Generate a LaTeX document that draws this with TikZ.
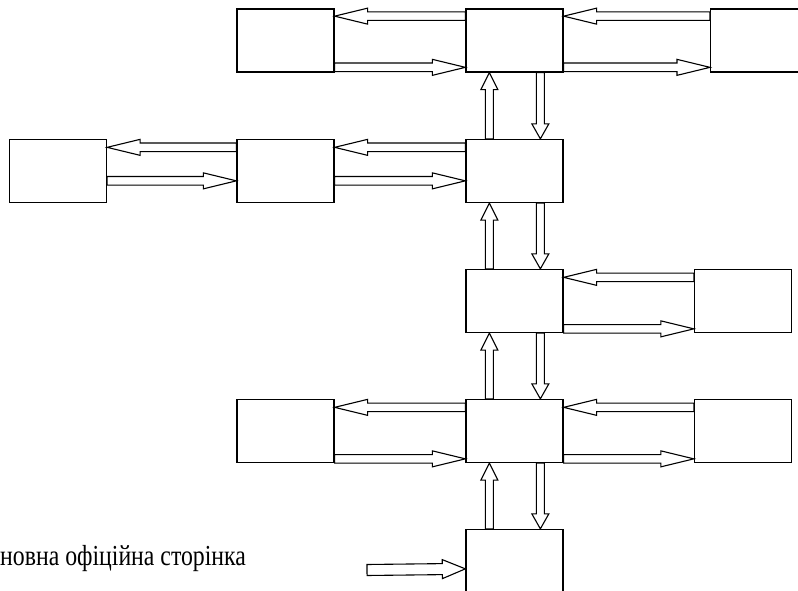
\documentclass[tikz,border=0pt]{standalone}
\usepackage{fontspec}
\setmainfont{Liberation Serif}
\usetikzlibrary{calc}
\usetikzlibrary{positioning}

\tikzset{page/.style={draw,rectangle,line width=1.3pt,minimum width=97pt,
    minimum height=63pt,inner sep=0pt},
  hollow/.style={draw,line width=1.1pt,line join=miter,fill=white}}

% hollow block arrow: from, to, half shaft, half head, head length
\newcommand{\blockarrow}[5]{%
  \coordinate (ArrFrom) at #1;
  \coordinate (ArrTo) at #2;
  \coordinate (HeadBase) at ($(ArrTo)!#5!(ArrFrom)$);
  \draw[hollow] ($(ArrFrom)!#3!90:(ArrTo)$) -- ($(HeadBase)!#3!90:(ArrTo)$)
    -- ($(HeadBase)!#4!90:(ArrTo)$) -- (ArrTo)
    -- ($(HeadBase)!#4!-90:(ArrTo)$) -- ($(HeadBase)!#3!-90:(ArrTo)$)
    -- ($(ArrFrom)!#3!-90:(ArrTo)$) -- cycle;
}

\begin{document}
\begin{tikzpicture}[x=1pt,y=-1pt]
  \useasboundingbox (0,0) rectangle (798,591);
  \clip (0,0) rectangle (798,591);

  \foreach \name/\x/\y in {Aone/285.5/40.5,Atwo/514.5/40.5,
    Bone/58/171,Btwo/285.5/171,Bthree/514.5/171,
    Cone/514.5/301,Ctwo/743/301,
    Done/285.5/431,Dtwo/514.5/431,Dthree/743/431,
    Eone/514.5/561}{%
    \node[page] (\name) at (\x,\y) {};
  }
  % cut off by the right border
  \node[page,minimum width=120pt,anchor=west] (Athree) at (710,40.5) {};

  \foreach \lbox/\rbox/\hi/\lo in {Aone/Atwo/7.8/59,Atwo/Athree/7.8/59,
    Bone/Btwo/8.5/42,Btwo/Bthree/8.5/42,Cone/Ctwo/8.5/60,
    Done/Dtwo/8.5/60,Dtwo/Dthree/8.5/60}{%
    \blockarrow{($(\rbox.north west)+(0,\hi)$)}{($(\lbox.north east)+(0,\hi)$)}{4.3pt}{8pt}{33pt}
    \blockarrow{($(\lbox.north east)+(0,\lo)$)}{($(\rbox.north west)+(0,\lo)$)}{4.3pt}{8pt}{33pt}
  }

  \foreach \upper/\lower in {Atwo/Bthree,Bthree/Cone,Cone/Dtwo,Dtwo/Eone}{%
    \blockarrow{($(\lower.north west)+(24,0)$)}{($(\upper.south west)+(24,0)$)}{4pt}{8.5pt}{17pt}
    \blockarrow{($(\upper.south west)+(75,0)$)}{($(\lower.north west)+(75,0)$)}{4pt}{8.5pt}{15pt}
  }

  \coordinate (Entry) at (367,570);
  \blockarrow{(Entry)}{($(Eone.north west)+(0,40)$)}{5.5pt}{9.5pt}{23pt}

  \node[anchor=base west,inner sep=0pt] (Caption) at (0,565)
    {\scalebox{0.82}[1]{\fontsize{29}{29}\selectfont новна офіційна сторінка}};
\end{tikzpicture}
\end{document}
